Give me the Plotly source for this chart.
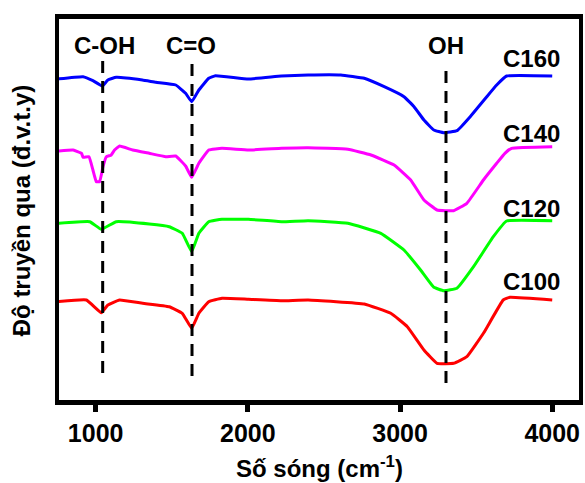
import plotly.graph_objects as go

# FTIR transmittance spectra (arbitrary units, vertically offset per sample)
c160_wn = [750, 917, 982, 1044, 1080, 1135, 1307, 1396, 1526, 1591, 1631, 1678, 1743, 1787,
           2004, 2220, 2396, 2611, 2765, 2896, 3026, 3092, 3157, 3222, 3287, 3374, 3461,
           3570, 3635, 3700, 4000]
c160_t = [321, 323.3, 319.3, 314, 320, 322.7, 320, 317.7, 315, 306.7, 298.3, 310, 321.7, 324.3,
          321, 324, 325, 325, 321.7, 313.3, 303.3, 293.3, 280, 270, 267.3, 269.3, 283.3,
          303.3, 315, 324, 324]

c140_wn = [750, 852, 907, 917, 956, 982, 1004, 1026, 1048, 1070, 1102, 1124, 1157, 1243, 1352,
           1461, 1526, 1591, 1631, 1678, 1743, 1830, 2004, 2222, 2396, 2657, 2809, 2961, 3070,
           3157, 3243, 3352, 3439, 3548, 3635, 3689, 3733, 4000]
c140_t = [249, 250, 246.7, 242.7, 243.3, 230, 218.3, 218.3, 233.3, 243.3, 245, 250, 254, 250, 246.7,
          243.3, 244, 234, 222.7, 236.7, 250, 251.7, 250, 251.7, 252.3, 250.7, 245, 235, 220,
          200, 190, 189.3, 196.7, 220, 236.7, 246.7, 251.7, 253.3]

c120_wn = [750, 961, 1037, 1135, 1352, 1483, 1569, 1631, 1678, 1743, 1830, 2004, 2222, 2396,
           2657, 2874, 3026, 3135, 3222, 3287, 3374, 3483, 3613, 3700, 4000]
c120_t = [176.7, 178.3, 170.7, 178.3, 176, 173.3, 166.7, 148.3, 166.7, 178.3, 180.7, 180.7, 178.3, 179.3,
          176.7, 166.7, 150, 130, 112.7, 109.3, 111.7, 133.3, 163.3, 179, 179.3]

c100_wn = [750, 939, 1037, 1080, 1157, 1309, 1483, 1569, 1631, 1678, 1743, 1830, 2004, 2222,
           2396, 2765, 2939, 3048, 3157, 3243, 3352, 3439, 3548, 3678, 3722, 4000]
c100_t = [98.3, 100, 87.3, 95, 100, 96.7, 93.3, 86.7, 71.7, 86.7, 98.3, 101.7, 100.7, 99.3,
          100, 96, 86.7, 73.3, 50, 36.7, 36.7, 43.3, 66.7, 100, 102.7, 100]

sample_names = ["C160", "C140", "C120", "C100"]
sample_colors = ["#0000ff", "#ff00ff", "#00ff00", "#ff0000"]

# characteristic bands marked with dashed guides
band_names = ["C-OH", "C=O", "OH"]
band_wn = [1046, 1633, 3302]

x_ticks = [1000, 2000, 3000, 4000]

FONT = "Arial, 'Liberation Sans', sans-serif"

series = [(c160_wn, c160_t), (c140_wn, c140_t), (c120_wn, c120_t), (c100_wn, c100_t)]

fig = go.Figure()
for (wn, t), name, color in zip(series, sample_names, sample_colors):
    fig.add_trace(go.Scatter(
        x=wn, y=t, mode="lines", name=name,
        line=dict(color=color, width=3, shape="spline", smoothing=0.3),
        showlegend=False,
    ))

# dashed guide lines (top/bottom ends in the same arbitrary units)
guide_top = [343, 343, 333]
guide_bottom = [27, 24, 17]
for xv, y0, y1 in zip(band_wn, guide_bottom, guide_top):
    fig.add_shape(type="line", xref="x", yref="y", x0=xv, x1=xv, y0=y0, y1=y1,
                  line=dict(color="black", width=3, dash="12px,8px"), layer="above")

# band labels
band_label_x = [1059, 1629, 3302]
for name, xv in zip(band_names, band_label_x):
    fig.add_annotation(x=xv, y=354.5, xref="x", yref="y", text=f"<b>{name}</b>",
                       showarrow=False, font=dict(family=FONT, size=24, color="black"),
                       xanchor="center", yanchor="middle")

# sample labels at the right end of each trace
sample_label_y = [341.5, 266.7, 191.7, 118.3]
for name, yv in zip(sample_names, sample_label_y):
    fig.add_annotation(x=3865, y=yv, xref="x", yref="y", text=f"<b>{name}</b>",
                       showarrow=False, font=dict(family=FONT, size=24, color="black"),
                       xanchor="center", yanchor="middle")

# axis titles
fig.add_annotation(x=0.5, y=-0.2185, xref="paper", yref="paper",
                   text="<b>Số sóng (cm<sup>-1</sup>)</b>", showarrow=False,
                   font=dict(family=FONT, size=24, color="black"),
                   xanchor="center", yanchor="bottom", borderpad=0)
fig.add_annotation(x=-0.0706, y=0.4987, xref="paper", yref="paper",
                   text="<b>Độ truyền qua (đ.v.t.y)</b>", showarrow=False, textangle=-90,
                   font=dict(family=FONT, size=24, color="black"),
                   xanchor="center", yanchor="middle")

fig.update_layout(
    width=585, height=483,
    margin=dict(l=59, r=2, t=19, b=83),
    paper_bgcolor="white", plot_bgcolor="white",
    font=dict(family=FONT, size=24, color="black"),
    xaxis=dict(
        range=[759, 4176], tickvals=x_ticks,
        ticktext=[f"<b>{v}</b>" for v in x_ticks],
        ticks="outside", ticklen=7, tickwidth=5, tickcolor="black",
        showline=True, linewidth=5, linecolor="black", mirror=True,
        showgrid=False, zeroline=False,
        tickfont=dict(family=FONT, size=25, color="black"),
    ),
    yaxis=dict(
        range=[0, 381], showticklabels=False, ticks="",
        showline=True, linewidth=4, linecolor="black", mirror=True,
        showgrid=False, zeroline=False,
    ),
)

fig.write_html("out.html")
